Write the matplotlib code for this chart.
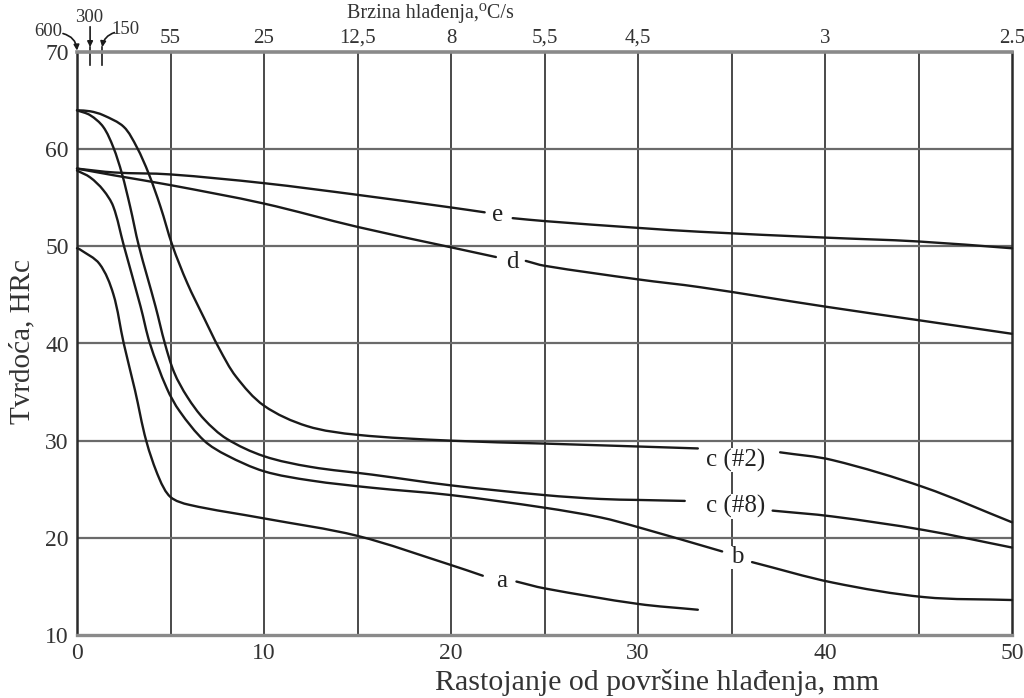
import numpy as np
import matplotlib
matplotlib.use("Agg")
import matplotlib.pyplot as plt
from matplotlib.path import Path
from matplotlib.patches import PathPatch

plt.rcParams['font.family'] = ['Liberation Serif', 'DejaVu Serif']

nan = np.nan
# ---- data (distance mm, hardness HRc); nan marks the gap left for the label
a_x = [0, 0.14, 1.2, 1.94, 2.5, 3.1, 3.7, 4.4, 5.0, 6.0, 10, 15, 20, 21.7, nan, 23.5, 25, 30, 33.2]
a_y = [49.8, 49.7, 48.2, 45.1, 40.0, 35.2, 30.0, 26.1, 24.2, 23.4, 22.0, 20.2, 17.2, 16.1, nan, 15.5, 14.8, 13.2, 12.6]

b_x = [0, 0.7, 1.4, 1.94, 2.5, 3.4, 3.9, 4.8, 5.5, 6.8, 8, 10, 12.5, 15.8, 20, 25, 28, 30, 34.5, nan, 36.1, 40.4, 45.3, 50]
b_y = [57.8, 57.1, 55.8, 54.1, 50.1, 43.8, 40.0, 35.4, 33.0, 30.0, 28.5, 26.85, 25.9, 25.15, 24.4, 23.1, 22.1, 21.1, 18.6, nan, 17.5, 15.4, 13.9, 13.6]

c2_x = [0, 0.7, 1.4, 2.5, 3.2, 3.83, 4.46, 5.1, 5.9, 6.8, 7.6, 8.5, 10, 12.3, 15, 20, 25, 30, 33.2, nan, 37.6, 40.4, 45.3, 50]
c2_y = [64.0, 63.9, 63.5, 62.3, 60.2, 57.5, 54.1, 50.1, 46.2, 42.6, 39.5, 36.6, 33.6, 31.5, 30.6, 30.0, 29.7, 29.4, 29.2, nan, 28.8, 28.0, 25.2, 21.6]

c8_x = [0, 0.7, 1.4, 1.94, 2.4, 2.84, 3.3, 4.2, 4.7, 5.2, 5.9, 6.8, 8, 10, 12.5, 15.8, 20, 25, 28, 30, 32.5, nan, 37.2, 40.4, 45.3, 50]
c8_y = [64.0, 63.5, 62.3, 60.2, 57.5, 54.1, 50.1, 43.8, 40.0, 37.0, 34.5, 32.2, 30.2, 28.4, 27.3, 26.5, 25.4, 24.4, 24.0, 23.9, 23.8, nan, 22.8, 22.2, 20.8, 19.0]

d_x = [0, 2, 5, 10, 15, 20, 22.4, nan, 24, 25, 30, 33.3, 40, 45, 50]
d_y = [58.0, 57.3, 56.3, 54.4, 52.0, 49.9, 48.9, nan, 48.5, 48.0, 46.6, 45.8, 43.8, 42.4, 41.0]

e_x = [0, 2, 5, 10, 15, 20, 21.8, nan, 23.3, 25, 30, 33.3, 40, 45, 50]
e_y = [58.0, 57.6, 57.4, 56.5, 55.3, 54.0, 53.5, nan, 52.9, 52.6, 51.9, 51.5, 50.9, 50.5, 49.8]

curve_labels = ['a', 'b', 'c (#2)', 'c (#8)', 'd', 'e']
label_x = [22.7, 35.3, 35.2, 35.2, 23.3, 22.5]
label_y = [15.6, 18.0, 28.0, 23.2, 48.4, 53.2]

x_ticks = [0, 10, 20, 30, 40, 50]
y_ticks = [10, 20, 30, 40, 50, 60, 70]
x_grid = [5, 10, 15, 20, 25, 30, 35, 40, 45]
y_grid = [20, 30, 40, 50, 60]

rate_pos = [5, 10, 15, 20, 25, 30, 40, 50]
rate_labels = ['55', '25', '12,5', '8', '5,5', '4,5', '3', '2.5']
rate_fine_pos = [0, 0.7, 1.35]
rate_fine_labels = ['600', '300', '150']

# ---- figure
fig = plt.figure(figsize=(10.24, 6.98), dpi=100)
ax = fig.add_axes([77/1024, 63/698, 935/1024, 583/698])
ax.set_xlim(0, 50)
ax.set_ylim(10, 70)

for gx in x_grid:
    ax.axvline(gx, color='#2a2a2a', lw=1.2, zorder=1)
for gy in y_grid:
    ax.axhline(gy, color='#6a6a6a', lw=1.6, zorder=1)

ink = '#1a1a1a'


def smooth_path(xs, ys):
    """Bezier path through the given data points (drawn in display space)."""
    pts = ax.transData.transform(np.column_stack([xs, ys]))
    n = len(pts)
    verts = [pts[0]]
    codes = [Path.MOVETO]
    for i in range(n - 1):
        p0 = pts[i - 1] if i > 0 else pts[i]
        p1 = pts[i]
        p2 = pts[i + 1]
        p3 = pts[i + 2] if i + 2 < n else pts[i + 1]
        d01 = np.hypot(*(p1 - p0)) or 1e-9
        d12 = np.hypot(*(p2 - p1)) or 1e-9
        d23 = np.hypot(*(p3 - p2)) or 1e-9
        m1 = (p2 - p0) / (d01 + d12) * d12 if i > 0 else (p2 - p1)
        m2 = (p3 - p1) / (d12 + d23) * d12 if i + 2 < n else (p2 - p1)
        verts += [p1 + m1 / 3.0, p2 - m2 / 3.0, p2]
        codes += [Path.CURVE4] * 3
    return Path(verts, codes)


def draw_curve(xs, ys):
    xs = np.asarray(xs, float)
    ys = np.asarray(ys, float)
    brk = np.where(np.isnan(xs))[0]
    starts = np.concatenate([[0], brk + 1])
    ends = np.concatenate([brk, [len(xs)]])
    for s, e in zip(starts, ends):
        patch = PathPatch(smooth_path(xs[s:e], ys[s:e]), facecolor='none', edgecolor=ink,
                          lw=1.7, transform=None, zorder=3, capstyle='round')
        fig.add_artist(patch)


for xs, ys in [(a_x, a_y), (b_x, b_y), (c2_x, c2_y), (c8_x, c8_y), (d_x, d_y), (e_x, e_y)]:
    draw_curve(xs, ys)

for t, lx, ly in zip(curve_labels, label_x, label_y):
    ax.text(lx, ly, t, fontsize=18, ha='center', va='center', color='#222222', zorder=4,
            bbox=dict(facecolor='white', edgecolor='none', pad=0.5))

ax.set_xticks(x_ticks)
ax.set_yticks(y_ticks)
ax.tick_params(axis='both', length=0, labelsize=17, colors='#333333')
ax.tick_params(axis='x', pad=6)
ax.tick_params(axis='y', pad=6)

ax.spines['top'].set_color('#8a8a8a'); ax.spines['top'].set_linewidth(2.6)
ax.spines['bottom'].set_color('#8a8a8a'); ax.spines['bottom'].set_linewidth(2.4)
ax.spines['left'].set_color('#2a2a2a'); ax.spines['left'].set_linewidth(1.8)
ax.spines['right'].set_color('#2a2a2a'); ax.spines['right'].set_linewidth(1.8)

# top axis: cooling rates
ax2 = ax.twiny()
ax2.set_xlim(ax.get_xlim())
ax2.set_xticks(rate_pos)
ax2.set_xticklabels(rate_labels)
ax2.tick_params(axis='x', length=0, labelsize=15, pad=3, colors='#333333')
for s in ax2.spines.values():
    s.set_visible(False)

# small arrows for the first three rates
arrow_kw = dict(arrowstyle='-|>', color=ink, lw=1.2, mutation_scale=8, shrinkA=0, shrinkB=0)
ax.annotate('', xy=(rate_fine_pos[0], 70.15), xytext=(-0.75, 71.9), xycoords='data',
            arrowprops=dict(connectionstyle='arc3,rad=-0.35', **arrow_kw), annotation_clip=False)
ax.annotate('', xy=(rate_fine_pos[1], 70.5), xytext=(rate_fine_pos[1], 72.6),
            arrowprops=dict(**arrow_kw), annotation_clip=False)
ax.plot([rate_fine_pos[1]] * 2, [70.5, 68.7], color=ink, lw=1.2, clip_on=False)
ax.annotate('', xy=(rate_fine_pos[2], 70.5), xytext=(2.0, 72.0),
            arrowprops=dict(connectionstyle='arc3,rad=0.3', **arrow_kw), annotation_clip=False)
ax.plot([rate_fine_pos[2]] * 2, [70.5, 68.7], color=ink, lw=1.2, clip_on=False)

ax.text(-1.55, 72.1, rate_fine_labels[0], fontsize=13.5, ha='center', va='center', color='#333333')
ax.text(0.64, 73.6, rate_fine_labels[1], fontsize=13.5, ha='center', va='center', color='#333333')
ax.text(2.6, 72.3, rate_fine_labels[2], fontsize=13.5, ha='center', va='center', color='#333333')

fig.text(430/1024, 1 - 13/698, 'Brzina hlađenja,⁰C/s', fontsize=14.5, ha='center', va='center', color='#333333')

fig.text(657/1024, 1 - 683/698, 'Rastojanje od površine hlađenja, mm', fontsize=21.5,
         ha='center', va='center', color='#333333')
fig.text(22/1024, 1 - 342/698, 'Tvrdoća, HRc', fontsize=21, rotation=90,
         ha='center', va='center', color='#333333')

fig.savefig('out.png', dpi=100)
